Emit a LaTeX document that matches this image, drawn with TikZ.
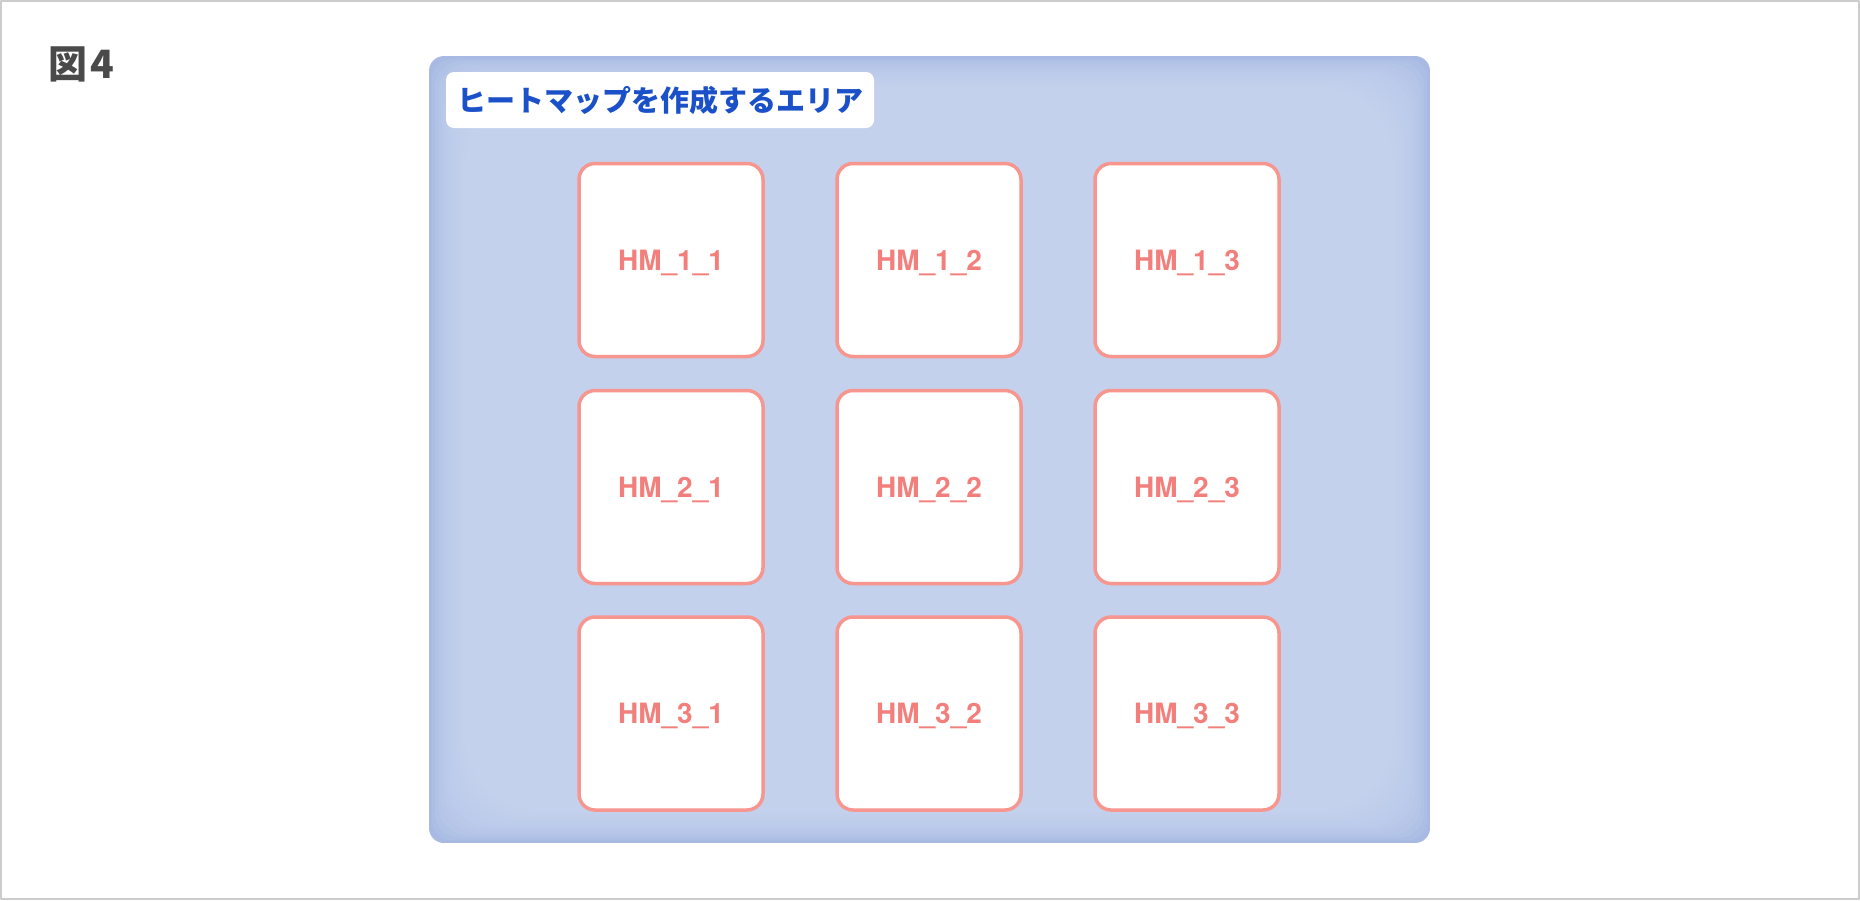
\documentclass[tikz,border=0pt]{standalone}
\usepackage{fontspec}
\setmainfont{TeX Gyre Heros}
\newfontfamily\cjk{Noto Sans CJK JP}
\usepackage{xcolor}
\definecolor{framegray}{HTML}{CCCCCC}
\definecolor{areablue}{HTML}{CAD7F2}
\definecolor{areaedge}{HTML}{A8BAE3}
\definecolor{titleblue}{HTML}{1A50C8}
\definecolor{cardline}{HTML}{F7958F}
\definecolor{cardtext}{HTML}{F27F7B}
\definecolor{figgray}{HTML}{4A4A4A}
\tikzset{
  hmcard/.style={draw=cardline,fill=white,line width=3.5pt,rounded corners=16pt,
    minimum width=184pt,minimum height=193pt,inner sep=0pt,text depth=0pt,text=cardtext,
    font=\bfseries\fontsize{28}{28}\selectfont},
  areatitle/.style={fill=white,rounded corners=8pt,minimum width=428pt,minimum height=56pt,
    inner sep=0pt,text=titleblue,font=\cjk\bfseries\fontsize{29}{29}\selectfont},
  figlabel/.style={inner sep=0pt,text=figgray,font=\cjk\bfseries\fontsize{39}{39}\selectfont}
}
\begin{document}
\begin{tikzpicture}[line cap=round,line join=round,x=1pt,y=-1pt]
                \useasboundingbox (0,0) rectangle (1860,900);
                \draw [framegray,line width=2pt] (1,1) rectangle (1859,899);
                % heat map area, darker towards the edges
                \begin{scope}
                    \clip [rounded corners=15pt] (429,56) rectangle (1430,843);
                    \fill [areaedge] (429,56) rectangle (1430,843);
                    \foreach \k in {1,...,26}
                        \fill [areablue,opacity=0.16,rounded corners=15pt+\k*5pt]
                            (429+\k*3,56+\k*2.6) rectangle (1430-\k*3,843-\k*2.6);
                \end{scope}
                \node [areatitle] (title) at (660,100) {ヒートマップを作成するエリア};
                \node [figlabel,anchor=west] (fig) at (48,64) {図\kern3pt 4};
                % cards
                \node [hmcard] (hm11) at (671,260) {HM\_1\_1};
                \node [hmcard] (hm12) at (929,260) {HM\_1\_2};
                \node [hmcard] (hm13) at (1187,260) {HM\_1\_3};
                \node [hmcard] (hm21) at (671,487) {HM\_2\_1};
                \node [hmcard] (hm22) at (929,487) {HM\_2\_2};
                \node [hmcard] (hm23) at (1187,487) {HM\_2\_3};
                \node [hmcard] (hm31) at (671,713.5) {HM\_3\_1};
                \node [hmcard] (hm32) at (929,713.5) {HM\_3\_2};
                \node [hmcard] (hm33) at (1187,713.5) {HM\_3\_3};
\end{tikzpicture}
\end{document}
